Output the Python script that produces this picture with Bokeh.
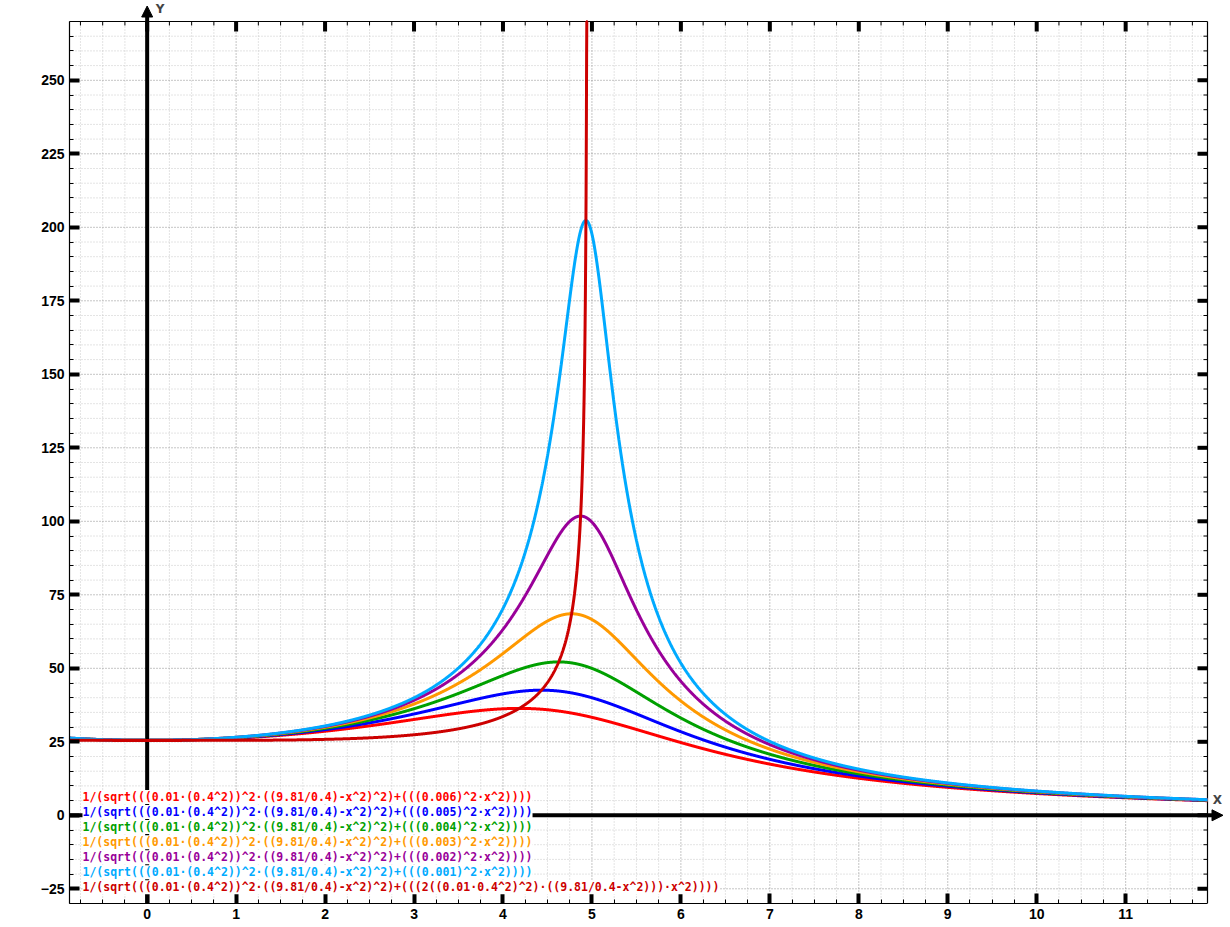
import numpy as np
from bokeh.plotting import figure
from bokeh.models import (Range1d, SingleIntervalTicker, LinearAxis, Arrow, NormalHead, Label)
from bokeh.embed import file_html
from bokeh.resources import INLINE

m = 0.01
L = 0.4
g = 9.81
damping = [0.006, 0.005, 0.004, 0.003, 0.002, 0.001]
colors = ["#ff0000", "#0000ff", "#00a000", "#ff9900", "#990099", "#00aaff"]
last_color = "#cc0000"
labels = [
    "1/(sqrt(((0.01·(0.4^2))^2·((9.81/0.4)-x^2)^2)+(((0.006)^2·x^2))))",
    "1/(sqrt(((0.01·(0.4^2))^2·((9.81/0.4)-x^2)^2)+(((0.005)^2·x^2))))",
    "1/(sqrt(((0.01·(0.4^2))^2·((9.81/0.4)-x^2)^2)+(((0.004)^2·x^2))))",
    "1/(sqrt(((0.01·(0.4^2))^2·((9.81/0.4)-x^2)^2)+(((0.003)^2·x^2))))",
    "1/(sqrt(((0.01·(0.4^2))^2·((9.81/0.4)-x^2)^2)+(((0.002)^2·x^2))))",
    "1/(sqrt(((0.01·(0.4^2))^2·((9.81/0.4)-x^2)^2)+(((0.001)^2·x^2))))",
    "1/(sqrt(((0.01·(0.4^2))^2·((9.81/0.4)-x^2)^2)+(((2((0.01·0.4^2)^2)·((9.81/0.4-x^2)))·x^2))))",
]
x_major_step, x_minor_step = 1.0, 0.25
y_major_step, y_minor_step = 25.0, 5.0

X_MIN, X_MAX = -0.873, 11.92
Y_MIN, Y_MAX = -30.0, 270.0

# ---- layout geometry (pixels) ----
W, H = 1228, 925
BOX_L, BOX_R, BOX_T, BOX_B = 69, 1207, 21, 903
SX = (BOX_R - BOX_L) / (X_MAX - X_MIN)
SY = (BOX_B - BOX_T) / (Y_MAX - Y_MIN)

p = figure(width=W, height=H, output_backend="svg", toolbar_location=None,
           x_range=Range1d(X_MIN, X_MAX + (W - BOX_R) / SX),
           y_range=Range1d(Y_MIN, Y_MAX + BOX_T / SY),
           x_axis_location=None, y_axis_location=None,
           min_border_left=BOX_L, min_border_right=0, min_border_top=0, min_border_bottom=H - BOX_B,
           background_fill_color="white", border_fill_color="white")
p.outline_line_color = None
p.xgrid.visible = False
p.ygrid.visible = False


def make_axis(ticker, bounds):
    ax = LinearAxis(ticker=ticker, bounds=bounds)
    ax.axis_line_color = "black"
    ax.axis_line_width = 1.2
    ax.major_tick_in = 10
    ax.major_tick_out = 0
    ax.major_tick_line_width = 4
    ax.major_tick_line_color = "black"
    ax.minor_tick_in = 4
    ax.minor_tick_out = 0
    ax.minor_tick_line_width = 1
    ax.minor_tick_line_color = "black"
    ax.major_label_text_font = "Liberation Sans"
    ax.major_label_text_font_style = "bold"
    ax.major_label_text_font_size = "14px"
    ax.major_label_text_color = "black"
    ax.major_label_standoff = 5
    return ax


p.add_layout(make_axis(SingleIntervalTicker(interval=x_major_step, num_minor_ticks=4), (X_MIN, X_MAX)), "below")
p.add_layout(make_axis(SingleIntervalTicker(interval=y_major_step, num_minor_ticks=5), (Y_MIN, Y_MAX)), "left")


def tick_values(lo, hi, step, exclude_step=None):
    v = np.arange(np.ceil(lo / step) * step, hi + 1e-9, step)
    v = v[(v > lo + 1e-9) & (v < hi - 1e-9)]
    if exclude_step is not None:
        v = v[np.abs(v / exclude_step - np.round(v / exclude_step)) > 1e-6]
    return v


xmaj = tick_values(X_MIN, X_MAX, x_major_step)
xmin_ = tick_values(X_MIN, X_MAX, x_minor_step, x_major_step)
ymaj = tick_values(Y_MIN, Y_MAX, y_major_step)
ymin_ = tick_values(Y_MIN, Y_MAX, y_minor_step, y_major_step)
xmaj_grid = xmaj[np.abs(xmaj) > 1e-9]
ymaj_grid = ymaj[np.abs(ymaj) > 1e-9]

# grid (minor then major), beneath everything
GL = dict(line_dash="1 2", line_width=1, level="image")
p.segment(xmin_, Y_MIN, xmin_, Y_MAX, line_color="#c8c8c8", **GL)
p.segment(X_MIN, ymin_, X_MAX, ymin_, line_color="#c8c8c8", **GL)
p.segment(xmaj_grid, Y_MIN, xmaj_grid, Y_MAX, line_color="#8a8a8a", **GL)
p.segment(X_MIN, ymaj_grid, X_MAX, ymaj_grid, line_color="#8a8a8a", **GL)

# top and right frame edges with inward ticks
p.segment([X_MIN], [Y_MAX], [X_MAX], [Y_MAX], line_color="black", line_width=1.2)
p.segment([X_MAX], [Y_MIN], [X_MAX], [Y_MAX], line_color="black", line_width=1.2)
p.segment(xmin_, Y_MAX, xmin_, Y_MAX - 4 / SY, line_color="black", line_width=1)
p.segment(xmaj, Y_MAX, xmaj, Y_MAX - 10 / SY, line_color="black", line_width=4)
p.segment(X_MAX, ymin_, X_MAX - 4 / SX, ymin_, line_color="black", line_width=1)
p.segment(X_MAX, ymaj, X_MAX - 10 / SX, ymaj, line_color="black", line_width=4)

# coordinate axes with arrows
ax_x = Arrow(x_start=X_MIN, y_start=0, x_end=X_MAX + 15.5 / SX, y_end=0, line_width=4, line_color="black",
             end=NormalHead(size=11, fill_color="black", line_color="black", line_width=1), level="underlay")
ax_y = Arrow(x_start=0, y_start=Y_MIN, x_end=0, y_end=Y_MAX + 15.5 / SY, line_width=4, line_color="black",
             end=NormalHead(size=11, fill_color="black", line_color="black", line_width=1), level="underlay")
p.add_layout(ax_x)
p.add_layout(ax_y)

p.add_layout(Label(x=X_MAX + 10 / SX, y=15 / SY, text="X", text_font="DejaVu Sans", text_font_style="bold",
                   text_font_size="12px", text_align="center", text_baseline="middle"))
p.add_layout(Label(x=13 / SX, y=Y_MAX + 12.5 / SY, text="Y", text_font="DejaVu Sans", text_font_style="bold",
                   text_font_size="12px", text_align="center", text_baseline="middle"))

# curves
xs = np.linspace(X_MIN, X_MAX, 6000)
A = (m * L**2) ** 2 * (g / L - xs**2) ** 2
for c, col in zip(damping, colors):
    ys = 1.0 / np.sqrt(A + (c**2) * xs**2)
    p.line(xs, np.minimum(ys, Y_MAX), line_color=col, line_width=3)

inner = A + (2 * (m * L**2) ** 2 * (g / L - xs**2)) * xs**2
with np.errstate(invalid="ignore", divide="ignore"):
    y_last = np.where(inner > 0, 1.0 / np.sqrt(np.abs(inner)), np.nan)
y_last = np.minimum(y_last, Y_MAX)
p.line(xs, y_last, line_color=last_color, line_width=3)

# formula legend
all_colors = colors + [last_color]
for i, (txt, col) in enumerate(zip(labels, all_colors)):
    p.add_layout(Label(x=X_MIN + 13 / SX, y=(18.3 - i * 15.05) / SY, text=txt, text_color=col,
                       text_font="DejaVu Sans Mono", text_font_style="bold",
                       text_font_size="11.5px", text_baseline="middle",
                       background_fill_color="white"))

open("out.html", "w").write(file_html(p, INLINE))
